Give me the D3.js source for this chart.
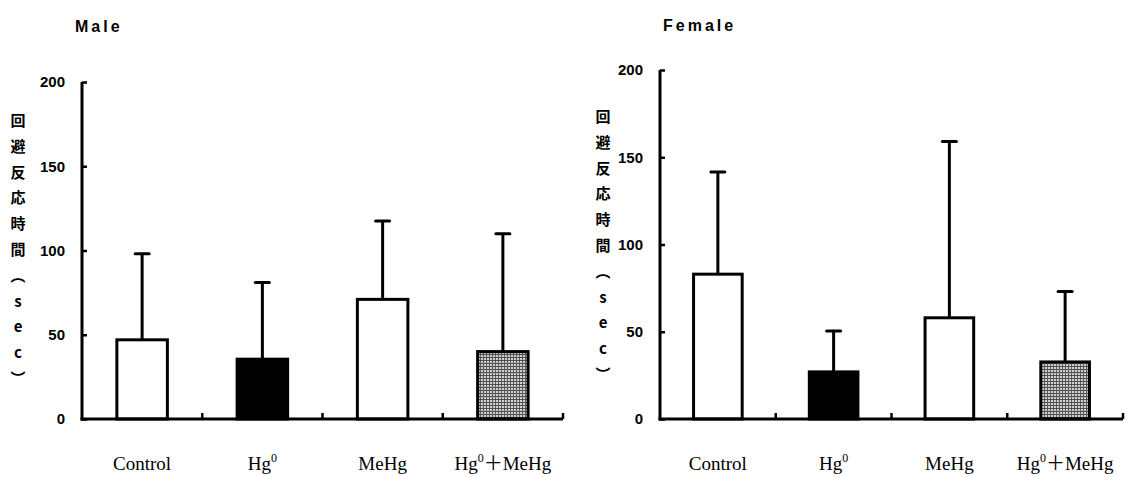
<!DOCTYPE html>
<html><head><meta charset="utf-8">
<script src="https://cdn.jsdelivr.net/npm/d3@7"></script>
<style>body{margin:0;background:#fff}svg{display:block}</style>
</head><body>
<svg id="c" width="1137" height="477"></svg>
<script>
const categories = ["Control", "Hg0", "MeHg", "Hg0+MeHg"];
const maleMeans = [47, 35.5, 71, 40];
const maleSD = [98, 81, 117.5, 110];
const femaleMeans = [83, 27, 58, 32.7];
const femaleSD = [141.5, 50.5, 159, 73];
const yTicks = [0, 50, 100, 150, 200];
const fillKinds = ["white", "black", "white", "hatch"];
const panels = [
  {title: "Male", means: maleMeans, sd: maleSD, x0: 82, x1: 563, yTop: 82, titleX: 75, titleY: 32, labX: 18, labY: 122},
  {title: "Female", means: femaleMeans, sd: femaleSD, x0: 660, x1: 1123, yTop: 70, titleX: 663, titleY: 31, labX: 603, labY: 118}
];
const yLabelChars = ["回","避","反","応","時","間","︵","s","e","c","︶"];

const svg = d3.select("#c");
const defs = svg.append("defs");
const pat = defs.append("pattern").attr("id","hatch").attr("width",3).attr("height",3).attr("patternUnits","userSpaceOnUse");
pat.append("rect").attr("width",3).attr("height",3).attr("fill","#d0d0d0");
pat.append("rect").attr("width",3).attr("height",1).attr("fill","#4a4a4a");
pat.append("rect").attr("width",1).attr("height",3).attr("fill","#5a5a5a");

const y0 = 419;
panels.forEach(p => {
  const g = svg.append("g");
  const y = d3.scaleLinear().domain([0,200]).range([y0, p.yTop]);
  const xB = d3.scaleBand().domain(categories).range([p.x0, p.x1]).padding(0);
  const xBar = d3.scaleBand().domain(categories).range([p.x0, p.x1]).paddingInner(0.58).paddingOuter(0.29);

  g.append("text").attr("x", p.titleX).attr("y", p.titleY).text(p.title)
    .attr("font-family","Liberation Sans, Arial, sans-serif").attr("font-weight","bold")
    .attr("font-size",16).attr("letter-spacing",3);

  const lab = g.append("g");
  yLabelChars.forEach((ch,i) => {
    lab.append("text").attr("x", p.labX).attr("y", p.labY + i*25.8)
      .attr("text-anchor","middle").attr("dominant-baseline","middle")
      .attr("font-family","Noto Sans CJK JP, sans-serif").attr("font-weight","bold")
      .attr("font-size", 15).text(ch);
  });

  categories.forEach((c,i) => {
    const bx = xBar(c), bw = xBar.bandwidth(), cx = bx + bw/2;
    g.append("line").attr("x1",cx).attr("x2",cx).attr("y1",y(p.means[i])).attr("y2",y(p.sd[i]))
      .attr("stroke","#000").attr("stroke-width",3);
    g.append("line").attr("x1",cx-7).attr("x2",cx+7).attr("y1",y(p.sd[i])).attr("y2",y(p.sd[i]))
      .attr("stroke","#000").attr("stroke-width",3).attr("stroke-linecap","round");
    g.append("rect").attr("x",bx).attr("y",y(p.means[i])).attr("width",bw).attr("height",y0-y(p.means[i]))
      .attr("fill", fillKinds[i]==="black" ? "#000" : fillKinds[i]==="hatch" ? "url(#hatch)" : "#fff")
      .attr("stroke","#000").attr("stroke-width",3);
  });

  const ya = g.append("g").attr("transform",`translate(${p.x0},0)`)
    .call(d3.axisLeft(y).tickValues(yTicks).tickSize(-5).tickSizeOuter(0).tickPadding(17));
  ya.select(".domain").attr("stroke-width",3).attr("d",`M0,${y0+1.5}V${p.yTop}`);
  ya.selectAll(".tick line").attr("stroke-width",2.5);
  ya.selectAll(".tick text").attr("font-family","Liberation Sans, Arial, sans-serif")
    .attr("font-weight","bold").attr("font-size",15).attr("fill","#000");

  g.append("line").attr("x1",p.x0-1.5).attr("x2",p.x1).attr("y1",y0).attr("y2",y0)
    .attr("stroke","#000").attr("stroke-width",3);
  categories.forEach(c => {
    const tx = xB(c) + xB.bandwidth();
    g.append("line").attr("x1",tx).attr("x2",tx).attr("y1",y0).attr("y2",y0-6)
      .attr("stroke","#000").attr("stroke-width",2.5);
  });
  categories.forEach(c => {
    const cx = xB(c) + xB.bandwidth()/2;
    const t = g.append("text").attr("x",cx).attr("y",470).attr("text-anchor","middle")
      .attr("font-family","Liberation Serif, Times New Roman, serif").attr("font-size",19);
    if (c === "Control" || c === "MeHg") t.text(c);
    else {
      t.append("tspan").text("Hg");
      t.append("tspan").attr("font-size",12).attr("dy",-8).text("0");
      if (c === "Hg0+MeHg") {
        t.append("tspan").attr("dy",8).attr("font-family","Noto Sans CJK JP, sans-serif").attr("font-size",19).text("＋");
        t.append("tspan").text("MeHg");
      }
    }
  });
});
</script>
</body></html>
